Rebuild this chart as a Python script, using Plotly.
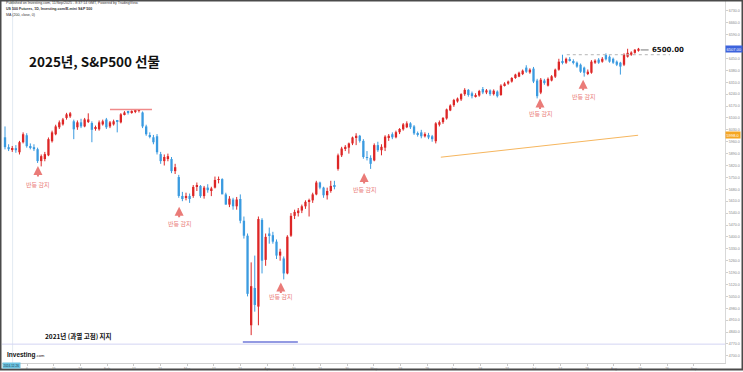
import plotly.graph_objects as go

# ---------------- data (daily OHLC, S&P500 futures) -------------
opens = [5986, 5928, 5916, 5922, 5898, 5957, 5998, 5934, 5928, 5916,
         5846, 5858, 5880, 5963, 6004, 6045, 6062, 6100, 6109, 6080,
         6045, 6074, 6050, 6080, 6070, 6040, 6033, 6062, 6091, 6050,
         6062, 6080, 6074, 6121, 6132, 6130, 6136, 6142, 6132, 6050,
         5998, 5986, 5992, 5887, 5846, 5858, 5858, 5787, 5752, 5641,
         5630, 5641, 5641, 5694, 5700, 5640, 5690, 5675, 5690, 5735,
         5740, 5650, 5590, 5620, 5580, 5623, 5495, 5407, 4880, 5100,
         4990, 5500, 5265, 5420, 5410, 5372, 5290, 5273, 5185, 5407,
         5524, 5540, 5555, 5580, 5606, 5615, 5650, 5720, 5690, 5645,
         5670, 5705, 5800, 5880, 5920, 5925, 5950, 5985, 5995, 5965,
         5870, 5865, 5850, 5940, 5910, 5925, 5985, 6004, 5986, 6016,
         6033, 6045, 6068, 6050, 6009, 6015, 5992, 6000, 5992, 5963,
         6060, 6075, 6097, 6144, 6175, 6197, 6209, 6240, 6265, 6245,
         6228, 6232, 6270, 6250, 6262, 6240, 6255, 6235, 6292, 6302,
         6314, 6335, 6343, 6358, 6396, 6368, 6390, 6320, 6249, 6320,
         6290, 6320, 6343, 6384, 6435, 6425, 6443, 6435, 6425, 6413,
         6396, 6362, 6366, 6425, 6443, 6431, 6470, 6460, 6448, 6431,
         6425, 6413, 6460, 6472, 6483, 6495]
highs = [6050, 5945, 5935, 5940, 5965, 6015, 6010, 5950, 5945, 5925,
         5885, 5900, 5985, 6025, 6060, 6085, 6100, 6130, 6135, 6090,
         6085, 6095, 6100, 6127, 6080, 6055, 6085, 6090, 6100, 6082,
         6090, 6088, 6128, 6140, 6142, 6145, 6148, 6152, 6138, 6060,
         6015, 6000, 6005, 5900, 5885, 5890, 5870, 5830, 5765, 5665,
         5660, 5655, 5705, 5720, 5705, 5700, 5710, 5695, 5755, 5755,
         5745, 5660, 5640, 5630, 5635, 5650, 5520, 5420, 5250, 5290,
         5520, 5510, 5420, 5455, 5430, 5385, 5330, 5285, 5410, 5540,
         5560, 5570, 5590, 5615, 5625, 5660, 5730, 5725, 5695, 5690,
         5730, 5730, 5890, 5930, 5940, 5955, 5990, 6010, 6000, 5975,
         5905, 5880, 5950, 5960, 5945, 5998, 6005, 6015, 6025, 6040,
         6070, 6080, 6075, 6058, 6020, 6030, 6015, 6012, 6000, 6075,
         6085, 6105, 6155, 6180, 6212, 6220, 6245, 6275, 6270, 6255,
         6245, 6265, 6282, 6270, 6268, 6268, 6262, 6298, 6310, 6320,
         6340, 6360, 6372, 6385, 6410, 6392, 6400, 6330, 6335, 6330,
         6338, 6352, 6390, 6448, 6472, 6455, 6458, 6445, 6432, 6420,
         6402, 6385, 6440, 6445, 6452, 6458, 6480, 6468, 6455, 6438,
         6430, 6480, 6507, 6492, 6505, 6512]
lows = [5915, 5905, 5900, 5895, 5885, 5950, 5925, 5915, 5905, 5835,
        5815, 5845, 5875, 5955, 5998, 6035, 6055, 6090, 6100, 5975,
        6030, 6040, 6045, 6070, 5957, 6025, 6025, 6055, 6035, 6040,
        6055, 6015, 6068, 6115, 6120, 6125, 6128, 6132, 6040, 5995,
        5980, 5945, 5885, 5830, 5820, 5845, 5775, 5770, 5630, 5610,
        5615, 5600, 5630, 5670, 5630, 5625, 5660, 5640, 5685, 5715,
        5660, 5590, 5575, 5560, 5560, 5480, 5390, 5050, 4822, 4960,
        4880, 5185, 5230, 5360, 5360, 5270, 5260, 5150, 5180, 5400,
        5505, 5520, 5540, 5565, 5520, 5600, 5645, 5680, 5630, 5620,
        5660, 5680, 5790, 5870, 5905, 5890, 5940, 5940, 5955, 5860,
        5850, 5800, 5845, 5900, 5880, 5905, 5965, 5975, 5980, 6005,
        6025, 6040, 6035, 6000, 5990, 5980, 5985, 5975, 5960, 5950,
        6050, 6065, 6090, 6140, 6165, 6190, 6200, 6230, 6225, 6215,
        6220, 6225, 6240, 6240, 6230, 6232, 6220, 6230, 6285, 6295,
        6308, 6330, 6340, 6352, 6365, 6360, 6305, 6215, 6240, 6295,
        6285, 6315, 6335, 6378, 6415, 6418, 6432, 6415, 6395, 6365,
        6343, 6352, 6360, 6418, 6418, 6425, 6438, 6425, 6418, 6405,
        6355, 6405, 6455, 6465, 6478, 6490]
closes = [5928, 5916, 5922, 5910, 5957, 6004, 5934, 5928, 5916, 5846,
          5875, 5887, 5975, 6015, 6050, 6074, 6091, 6121, 6127, 6033,
          6074, 6050, 6091, 6091, 6030, 6045, 6074, 6080, 6045, 6074,
          6080, 6077, 6121, 6132, 6130, 6138, 6142, 6144, 6050, 6004,
          5992, 5957, 5898, 5846, 5870, 5875, 5787, 5810, 5641, 5623,
          5641, 5623, 5694, 5700, 5640, 5690, 5675, 5685, 5735, 5740,
          5650, 5590, 5625, 5580, 5620, 5495, 5407, 5065, 5110, 5000,
          5505, 5260, 5400, 5410, 5372, 5290, 5313, 5185, 5401, 5524,
          5547, 5555, 5580, 5606, 5612, 5650, 5720, 5690, 5645, 5670,
          5700, 5695, 5880, 5920, 5930, 5950, 5985, 5995, 5965, 5870,
          5865, 5830, 5940, 5910, 5930, 5990, 5995, 5986, 6016, 6035,
          6062, 6068, 6045, 6009, 6000, 5992, 6005, 5985, 5975, 6068,
          6075, 6100, 6150, 6173, 6205, 6214, 6240, 6265, 6235, 6228,
          6232, 6258, 6250, 6262, 6240, 6260, 6228, 6290, 6302, 6314,
          6335, 6355, 6366, 6378, 6372, 6384, 6314, 6228, 6325, 6305,
          6330, 6345, 6384, 6431, 6425, 6448, 6440, 6425, 6402, 6372,
          6366, 6372, 6431, 6437, 6425, 6448, 6445, 6431, 6425, 6413,
          6402, 6472, 6483, 6485, 6501, 6507]

# moving-average line (two end points as drawn on the chart)
ma_x = [120.4, 174.9]
ma_y = [5869, 5998]

# annotated levels
feb_high = 6150
support_2021 = 4781
support_2021_wide = 4769
recent_high = 6472
target_level = 6500.00

# rebound markers: candle position, arrow tip price, label price
rebound_x = [9.1, 48.1, 76.2, 99.2, 147.8, 159.7]
rebound_tip = [5817, 5577, 5132, 5776, 6214, 6325]
rebound_label_y = [5711, 5477, 5050, 5676, 6127, 6226]

# axis ticks
y_ticks = [4700, 4770, 4840, 4910, 4980, 5050, 5120, 5190, 5260, 5330,
           5400, 5470, 5540, 5610, 5680, 5750, 5820, 5890, 5960, 6030,
           6100, 6170, 6240, 6310, 6380, 6450, 6520, 6590, 6660, 6730]
x_tick_pos = [6.1, 13.5, 20.8, 28.2, 35.6, 42.9, 50.3, 57.7, 65.0, 72.4,
              79.8, 87.1, 94.5, 101.9, 109.2, 116.6, 124.0, 131.3, 138.7, 146.1,
              153.4, 160.8, 168.2, 175.5, 182.9, 190.3]
x_tick_text = ["6", "15", "24", "Feb", "12", "21", "Mar", "12", "21", "Apr",
               "10", "21", "30", "May", "19", "29", "Jun", "18", "27", "Jul",
               "17", "28", "Aug", "15", "26", "Sep"]

last_price_label = "6507.00"
ma_label = "5998.0"

# ---------------- layout geometry -------------
W, H = 743, 372
ML, MR, MT, MB = 2, 18, 1, 7
PW, PH = W - ML - MR, H - MT - MB
X_RANGE = [-0.83, 198.9]
Y_RANGE = [4658, 6788]


def px(x):
    return (x - ML) / PW


def py(y):
    return (H - MB - y) / PH


UP = "#dd2727"
DN = "#3b9be0"
SALMON = "#ea7b78"

n = len(closes)
idx = list(range(n))
up = [i for i in idx if closes[i] >= opens[i]]
dn = [i for i in idx if closes[i] < opens[i]]

# hide axis labels that would sit under the highlighted price boxes
shown_ticks = [v for v in y_ticks
               if abs(v - closes[-1]) > 30 and abs(v - ma_y[-1]) > 30]

fig = go.Figure()


def wicks(sel, color):
    xs, ys = [], []
    for i in sel:
        xs += [i, i, None]
        ys += [lows[i], highs[i], None]
    fig.add_trace(go.Scatter(x=xs, y=ys, mode="lines",
                             line=dict(color=color, width=1),
                             hoverinfo="skip"))


def bodies(sel, color):
    fig.add_trace(go.Bar(
        x=sel,
        base=[min(opens[i], closes[i]) for i in sel],
        y=[max(abs(closes[i] - opens[i]), 5) for i in sel],
        width=0.64, marker=dict(color=color, line=dict(width=0)),
        hoverinfo="skip"))


wicks(up, UP)
wicks(dn, DN)
bodies(up, UP)
bodies(dn, DN)

fig.add_trace(go.Scatter(x=ma_x, y=ma_y, mode="lines",
                         line=dict(color="#f6b65e", width=1), hoverinfo="skip"))

shapes = [
    # crosshair vertical
    dict(type="line", xref="x", yref="paper", x0=2.1, x1=2.1, y0=0, y1=1,
         line=dict(color="#e2eaf2", width=1), layer="below"),
    # Feb high
    dict(type="line", xref="x", yref="y", x0=29.0, x1=40.6, y0=feb_high, y1=feb_high,
         line=dict(color="#f08a8a", width=1.5)),
    # 2021 high support (wide faint + short strong)
    dict(type="line", xref="paper", yref="y", x0=0, x1=1, y0=support_2021_wide, y1=support_2021_wide,
         line=dict(color="#d3d5f3", width=1)),
    dict(type="line", xref="x", yref="y", x0=65.7, x1=80.9, y0=support_2021, y1=support_2021,
         line=dict(color="#6f78d8", width=1.5)),
    # recent high dotted
    dict(type="line", xref="x", yref="y", x0=155.2, x1=183.7, y0=recent_high, y1=recent_high,
         line=dict(color="#b5b5b5", width=1, dash="dot")),
    # short leader to 6500 label
    dict(type="line", xref="x", yref="y", x0=175.6, x1=177.8, y0=target_level, y1=target_level,
         line=dict(color="#777777", width=1)),
    # outer frame
    dict(type="rect", xref="paper", yref="paper", x0=px(0.5), x1=px(742.5),
         y0=py(371.5), y1=py(0.5), line=dict(color="#4a4a4a", width=2)),
]

ann = []
KR = "Noto Sans CJK KR, Noto Sans, sans-serif"
# header
hdr = ["Published on Investing.com, 11/Sep/2025 - 8:37:14 GMT, Powered by TradingView.",
       "<b>US 500 Futures, 1D, Investing.com/E-mini S&P 500</b>",
       "MA (200, close, 0)"]
for k, t in enumerate(hdr):
    ann.append(dict(xref="paper", yref="paper", x=px(4), y=py(3 + 6 * k), text=t,
                    showarrow=False, xanchor="left", yanchor="middle",
                    font=dict(size=3.6, color="#333", family="Liberation Sans")))
# title
ann.append(dict(xref="paper", yref="paper", x=px(27), y=py(61), text="<b>2025년, S&P500 선물</b>",
                showarrow=False, xanchor="left", yanchor="middle",
                font=dict(size=13.5, color="#111", family=KR)))
ann.append(dict(xref="paper", yref="paper", x=px(43), y=py(338), text="<b>2021년 (과열 고점) 지지</b>",
                showarrow=False, xanchor="left", yanchor="middle",
                font=dict(size=6.5, color="#111", family=KR)))
ann.append(dict(xref="x", yref="y", x=178.3, y=target_level, text="<b>%.2f</b>" % target_level,
                showarrow=False, xanchor="left", yanchor="middle",
                font=dict(size=7, color="#111", family="DejaVu Sans")))
# rebound arrows and labels
for xi, tip, ly in zip(rebound_x, rebound_tip, rebound_label_y):
    ann.append(dict(xref="x", yref="y", x=xi, y=tip, text="", showarrow=True,
                    ax=0, ay=12, arrowhead=2, arrowsize=0.9, arrowwidth=2,
                    arrowcolor=SALMON, standoff=0))
    ann.append(dict(xref="x", yref="y", x=xi, y=ly, text="반등 감지", showarrow=False,
                    xanchor="center", yanchor="middle",
                    font=dict(size=6, color=SALMON, family=KR)))
# right-axis price boxes
ann.append(dict(xref="paper", yref="y", x=1.0, y=closes[-1], text=last_price_label,
                showarrow=False, xanchor="left", yanchor="middle", bgcolor="#3d63dd",
                borderpad=0.5, font=dict(size=4, color="white", family="Liberation Sans")))
ann.append(dict(xref="paper", yref="y", x=1.0, y=ma_y[-1], text=ma_label,
                showarrow=False, xanchor="left", yanchor="middle", bgcolor="#f5a623",
                borderpad=0.5, font=dict(size=4, color="white", family="Liberation Sans")))
# logo and crosshair date box
ann.append(dict(xref="paper", yref="paper", x=px(5), y=py(357),
                text="<b>Investing</b><span style='font-size:4px'>.com</span>",
                showarrow=False, xanchor="left", yanchor="middle",
                font=dict(size=6.5, color="#111", family="Liberation Sans")))
ann.append(dict(xref="paper", yref="paper", x=px(2), y=py(367.5), text="2024-12-26",
                showarrow=False, xanchor="left", yanchor="middle", bgcolor="#6cc3e2",
                borderpad=0.5, font=dict(size=3, color="#1d3b4a", family="Liberation Sans")))

fig.update_layout(
    width=W, height=H,
    margin=dict(l=ML, r=MR, t=MT, b=MB, pad=0),
    paper_bgcolor="white", plot_bgcolor="white",
    showlegend=False, barmode="overlay",
    shapes=shapes, annotations=ann,
    xaxis=dict(range=X_RANGE, showgrid=False, zeroline=False, showline=True,
               linecolor="#d0d0d0", linewidth=1, tickvals=x_tick_pos, ticktext=x_tick_text,
               ticks="outside", ticklen=2, tickcolor="#c8c8c8",
               tickfont=dict(size=3.5, color="#999", family="Liberation Sans")),
    yaxis=dict(range=Y_RANGE, side="right", showgrid=False, zeroline=False, showline=True,
               linecolor="#d8d8d8", linewidth=1, tickvals=shown_ticks,
               ticktext=["%.1f" % v for v in shown_ticks],
               ticks="outside", ticklen=2, tickcolor="#d0d0d0",
               tickfont=dict(size=3.6, color="#888", family="Liberation Sans")),
)

fig.write_html("out.html", config={"displayModeBar": False},
               post_script="document.body.style.margin='0';document.body.style.overflow='hidden';")
